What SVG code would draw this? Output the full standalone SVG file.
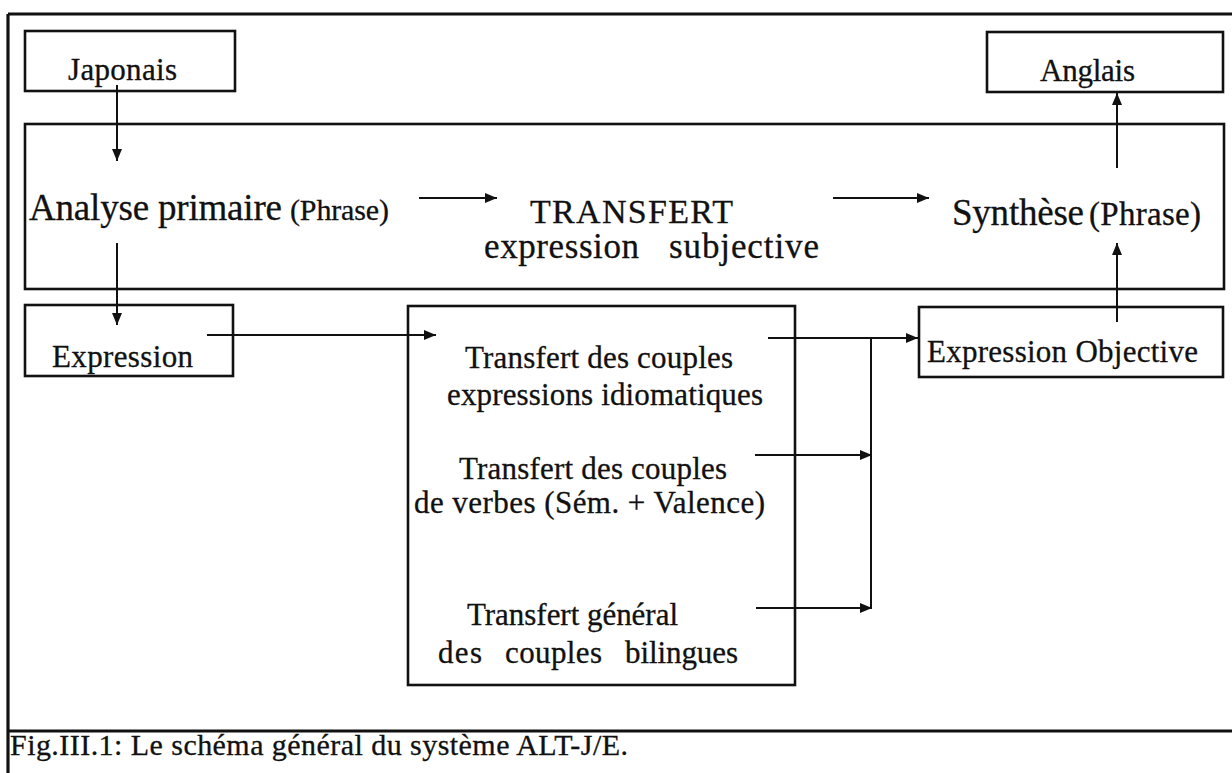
<svg xmlns="http://www.w3.org/2000/svg" width="1232" height="773" viewBox="0 0 1232 773" font-family="'Liberation Serif', 'Times New Roman', Times, serif">
  <style>
    .box { fill: none; stroke: #111; stroke-width: 2.6; }
    .frame { fill: none; stroke: #111; stroke-width: 3.2; }
    .wire { fill: none; stroke: #111; stroke-width: 2; }
    .arrow { fill: none; stroke: #111; stroke-width: 2; marker-end: url(#head); }
    text { fill: #111; stroke: #111; stroke-width: 0.3; }
    .lbl { font-size: 31px; }
    .big { font-size: 37px; }
  </style>
  <defs>
    <marker id="head" markerUnits="userSpaceOnUse" markerWidth="12" markerHeight="10" refX="12" refY="5" orient="auto">
      <path d="M0,0 L12,5 L0,10 z" fill="#111"/>
    </marker>
  </defs>

  <rect width="1232" height="773" fill="#fff"/>

  <!-- outer frame and caption rule -->
  <g id="frame">
    <line class="frame" x1="8" y1="14" x2="1232" y2="14"/>
    <line class="frame" x1="8" y1="14" x2="8" y2="773"/>
    <line class="frame" x1="8" y1="731" x2="1232" y2="731"/>
  </g>

  <g id="japonais">
    <rect class="box" x="25" y="31" width="210" height="60"/>
    <text class="lbl" x="68" y="80" textLength="109">Japonais</text>
  </g>

  <g id="anglais">
    <rect class="box" x="987" y="32" width="236" height="60"/>
    <text class="lbl" x="1040" y="81" textLength="95">Anglais</text>
  </g>

  <g id="analyse">
    <rect class="box" x="25" y="124" width="1199" height="165"/>
    <text x="29" y="220"><tspan class="big" textLength="253">Analyse primaire</tspan><tspan font-size="30" x="290" textLength="99">(Phrase)</tspan></text>
    <text x="530" y="223" font-size="34" textLength="203">TRANSFERT</text>
    <text y="258" font-size="35"><tspan x="484" textLength="155">expression</tspan><tspan x="669" textLength="150">subjective</tspan></text>
    <text x="952" y="225"><tspan class="big" textLength="132">Synthèse</tspan><tspan font-size="33" x="1089" textLength="112">(Phrase)</tspan></text>
  </g>

  <g id="expression">
    <rect class="box" x="25" y="305" width="208" height="71"/>
    <text class="lbl" x="52" y="367" textLength="141">Expression</text>
  </g>

  <g id="transfert">
    <rect class="box" x="408" y="306" width="387" height="379"/>
    <text class="lbl" x="465" y="368" textLength="268">Transfert des couples</text>
    <text class="lbl" x="447" y="405" textLength="316">expressions idiomatiques</text>
    <text class="lbl" x="459" y="479" textLength="268">Transfert des couples</text>
    <text class="lbl" x="414" y="513" textLength="351">de verbes (Sém. + Valence)</text>
    <text class="lbl" x="467" y="625" textLength="211">Transfert général</text>
    <text class="lbl" y="663"><tspan x="438" textLength="44">des</tspan><tspan x="505" textLength="97">couples</tspan><tspan x="625" textLength="113">bilingues</tspan></text>
  </g>

  <g id="expression-objective">
    <rect class="box" x="919" y="307" width="304" height="70"/>
    <text class="lbl" x="927" y="362" textLength="271">Expression Objective</text>
  </g>

  <g id="connectors">
    <line class="arrow" x1="117" y1="85" x2="117" y2="161"/>
    <line class="arrow" x1="117" y1="243" x2="117" y2="325"/>
    <line class="arrow" x1="419" y1="198" x2="497" y2="198"/>
    <line class="arrow" x1="833" y1="198" x2="929" y2="198"/>
    <line class="arrow" x1="1117" y1="168" x2="1117" y2="93"/>
    <line class="arrow" x1="1117" y1="322" x2="1117" y2="243"/>
    <line class="arrow" x1="207" y1="335" x2="436" y2="335"/>
    <line class="arrow" x1="768" y1="338" x2="918" y2="338"/>
    <line class="wire" x1="871" y1="338" x2="871" y2="609"/>
    <line class="arrow" x1="755" y1="455" x2="872" y2="455"/>
    <line class="arrow" x1="756" y1="608" x2="872" y2="608"/>
  </g>

  <g id="caption">
    <text x="10" y="755" font-size="30" textLength="618">Fig.III.1: Le schéma général du système ALT-J/E.</text>
  </g>
</svg>
